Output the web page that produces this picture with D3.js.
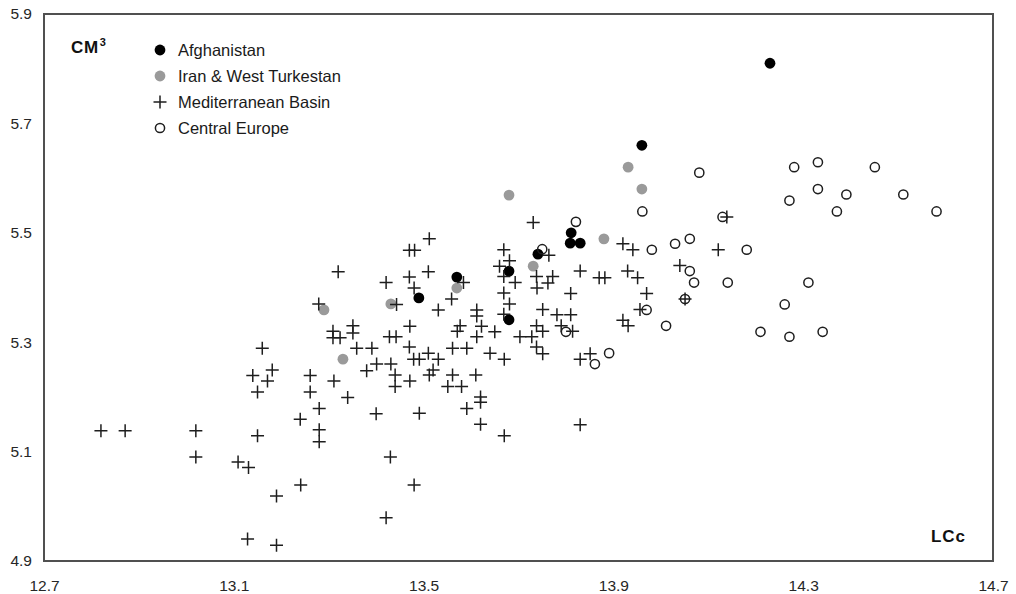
<!DOCTYPE html>
<html>
<head>
<meta charset="utf-8">
<script src="https://cdn.jsdelivr.net/npm/d3@7"></script>
<style>
  html, body { margin: 0; padding: 0; background: #fff; }
  svg { display: block; font-family: "Liberation Sans", Arial, sans-serif; }
</style>
</head>
<body>
<svg id="chart" width="1016" height="594"></svg>
<script>
// Axis ticks
const xTicks = [12.7, 13.1, 13.5, 13.9, 14.3, 14.7];
const yTicks = [4.9, 5.1, 5.3, 5.5, 5.7, 5.9];

// Series: [LCc, CM3]
const afghanistan = [
  [14.230, 5.810], [13.960, 5.660], [13.811, 5.500], [13.809, 5.481], [13.830, 5.481],
  [13.741, 5.461], [13.680, 5.430], [13.680, 5.341], [13.570, 5.419], [13.490, 5.381]
];

const iranWestTurkestan = [
  [13.931, 5.620], [13.960, 5.580], [13.880, 5.489], [13.731, 5.439], [13.680, 5.569],
  [13.570, 5.399], [13.431, 5.370], [13.290, 5.359], [13.330, 5.269]
];

const mediterraneanBasin = [
  [12.820, 5.138], [12.871, 5.138], [13.020, 5.138], [13.020, 5.090], [13.109, 5.081],
  [13.131, 5.071], [13.129, 4.940], [13.190, 4.929], [13.190, 5.019], [13.241, 5.039],
  [13.150, 5.129], [13.160, 5.289], [13.181, 5.249], [13.140, 5.239], [13.171, 5.229],
  [13.150, 5.209], [13.261, 5.239], [13.261, 5.209], [13.311, 5.229], [13.340, 5.199],
  [13.280, 5.179], [13.240, 5.159], [13.280, 5.140], [13.280, 5.118], [13.400, 5.169],
  [13.430, 5.090], [13.421, 4.979], [13.480, 5.039], [13.279, 5.370], [13.320, 5.429],
  [13.421, 5.409], [13.309, 5.320], [13.309, 5.308], [13.324, 5.308], [13.351, 5.330],
  [13.351, 5.317], [13.359, 5.289], [13.391, 5.289], [13.380, 5.248], [13.401, 5.260],
  [13.431, 5.260], [13.440, 5.240], [13.440, 5.219], [13.428, 5.310], [13.442, 5.310],
  [13.443, 5.369], [13.512, 5.489], [13.470, 5.468], [13.481, 5.468], [13.510, 5.429],
  [13.470, 5.419], [13.480, 5.399], [13.584, 5.409], [13.559, 5.379], [13.531, 5.359],
  [13.471, 5.329], [13.470, 5.291], [13.479, 5.269], [13.491, 5.269], [13.510, 5.280],
  [13.531, 5.269], [13.561, 5.289], [13.591, 5.289], [13.640, 5.280], [13.670, 5.269],
  [13.471, 5.229], [13.512, 5.240], [13.520, 5.249], [13.561, 5.240], [13.610, 5.240],
  [13.551, 5.219], [13.580, 5.219], [13.620, 5.200], [13.620, 5.190], [13.591, 5.179],
  [13.491, 5.170], [13.620, 5.150], [13.670, 5.129], [13.577, 5.330], [13.571, 5.320],
  [13.622, 5.329], [13.612, 5.310], [13.650, 5.319], [13.612, 5.359], [13.612, 5.348],
  [13.669, 5.469], [13.681, 5.449], [13.660, 5.439], [13.669, 5.420], [13.693, 5.409],
  [13.669, 5.390], [13.681, 5.370], [13.669, 5.351], [13.731, 5.519], [13.764, 5.459],
  [13.738, 5.420], [13.772, 5.420], [13.762, 5.408], [13.739, 5.399], [13.751, 5.360],
  [13.781, 5.350], [13.810, 5.350], [13.810, 5.389], [13.830, 5.430], [13.738, 5.330],
  [13.751, 5.320], [13.790, 5.330], [13.814, 5.320], [13.703, 5.310], [13.728, 5.310],
  [13.738, 5.291], [13.751, 5.279], [13.830, 5.269], [13.851, 5.279], [13.830, 5.149],
  [13.920, 5.480], [13.941, 5.469], [13.930, 5.430], [13.951, 5.418], [13.870, 5.418],
  [13.882, 5.418], [13.970, 5.389], [13.956, 5.360], [13.920, 5.340], [13.931, 5.330],
  [14.040, 5.440], [14.121, 5.469], [14.139, 5.529], [14.051, 5.379]
];

const centralEurope = [
  [14.081, 5.610], [14.281, 5.620], [14.331, 5.629], [14.451, 5.620], [14.271, 5.559],
  [14.331, 5.580], [14.391, 5.570], [14.511, 5.570], [14.371, 5.539], [14.581, 5.539],
  [13.961, 5.539], [13.821, 5.520], [14.130, 5.529], [13.981, 5.469], [14.030, 5.480],
  [14.061, 5.489], [14.181, 5.469], [14.061, 5.430], [14.070, 5.409], [14.141, 5.409],
  [14.311, 5.409], [14.051, 5.379], [13.970, 5.359], [14.261, 5.369], [14.011, 5.330],
  [14.210, 5.319], [14.271, 5.310], [14.341, 5.319], [13.800, 5.319], [13.891, 5.280],
  [13.861, 5.260], [13.750, 5.470]
];

const legendNames = ["Afghanistan", "Iran & West Turkestan", "Mediterranean Basin", "Central Europe"];

const svg = d3.select("#chart");
const plotLeft = 44, plotRight = 993, plotTop = 14, plotBottom = 561;

const x = d3.scaleLinear().domain([12.7, 14.7]).range([plotLeft, plotRight]);
const y = d3.scaleLinear().domain([4.9, 5.9]).range([plotBottom, plotTop]);

const ink = "#1e1e1e";
const grey = "#9a9a9a";

// Axes (labels only, no tick marks)
const xAxis = svg.append("g")
  .attr("transform", `translate(0,${plotBottom})`)
  .call(d3.axisBottom(x).tickValues(xTicks).tickSize(0).tickPadding(19).tickFormat(d3.format(".1f")));
const yAxis = svg.append("g")
  .attr("transform", `translate(${plotLeft},0)`)
  .call(d3.axisLeft(y).tickValues(yTicks).tickSize(0).tickPadding(12).tickFormat(d3.format(".1f")));
[xAxis, yAxis].forEach(g => {
  g.select(".domain").remove();
  g.selectAll("text")
    .attr("font-family", "'Liberation Sans', Arial, sans-serif")
    .attr("font-size", 15.5)
    .attr("fill", "#262626");
});

// Plot frame
svg.append("rect")
  .attr("x", plotLeft).attr("y", plotTop)
  .attr("width", plotRight - plotLeft).attr("height", plotBottom - plotTop)
  .attr("fill", "none")
  .attr("stroke", "#505050")
  .attr("stroke-width", 2);

const plotG = svg.append("g");

// Afghanistan
plotG.append("g").selectAll("circle").data(afghanistan).join("circle")
  .attr("cx", d => x(d[0])).attr("cy", d => y(d[1]))
  .attr("r", 5.4).attr("fill", "#000");

// Iran & West Turkestan
plotG.append("g").selectAll("circle").data(iranWestTurkestan).join("circle")
  .attr("cx", d => x(d[0])).attr("cy", d => y(d[1]))
  .attr("r", 5.4).attr("fill", grey);

// Mediterranean Basin
const plusPath = "M-6.5,0H6.5M0,-6.5V6.5";
plotG.append("g").selectAll("path").data(mediterraneanBasin).join("path")
  .attr("transform", d => `translate(${x(d[0])},${y(d[1])})`)
  .attr("d", plusPath)
  .attr("fill", "none")
  .attr("stroke", ink)
  .attr("stroke-width", 1.5);

// Central Europe
plotG.append("g").selectAll("circle").data(centralEurope).join("circle")
  .attr("cx", d => x(d[0])).attr("cy", d => y(d[1]))
  .attr("r", 4.6).attr("fill", "none")
  .attr("stroke", ink).attr("stroke-width", 1.5);

// Axis titles inside the frame
const cm = svg.append("text")
  .attr("x", 71).attr("y", 53)
  .attr("font-size", 17).attr("font-weight", "bold")
  .attr("letter-spacing", 0.6)
  .attr("fill", "#111");
cm.append("tspan").text("CM");
cm.append("tspan").attr("font-size", 11).attr("dy", -7).attr("dx", 1).text("3");

svg.append("text")
  .attr("x", 966).attr("y", 542)
  .attr("text-anchor", "end")
  .attr("font-size", 17).attr("font-weight", "bold")
  .attr("letter-spacing", 1)
  .attr("fill", "#111")
  .text("LCc");

// Legend
const legend = svg.append("g");
const legendY = [50, 76, 102, 128];
const legendX = 160;
legend.append("circle").attr("cx", legendX).attr("cy", legendY[0]).attr("r", 5.4).attr("fill", "#000");
legend.append("circle").attr("cx", legendX).attr("cy", legendY[1]).attr("r", 5.4).attr("fill", grey);
legend.append("path").attr("transform", `translate(${legendX},${legendY[2]})`)
  .attr("d", plusPath).attr("stroke", ink).attr("stroke-width", 1.5);
legend.append("circle").attr("cx", legendX).attr("cy", legendY[3]).attr("r", 4.6)
  .attr("fill", "none").attr("stroke", ink).attr("stroke-width", 1.5);
legend.selectAll("text").data(legendNames).join("text")
  .attr("x", 178)
  .attr("y", (d, i) => legendY[i] + 5.5)
  .attr("font-size", 16.5)
  .attr("fill", "#1a1a1a")
  .text(d => d);
</script>
</body>
</html>
